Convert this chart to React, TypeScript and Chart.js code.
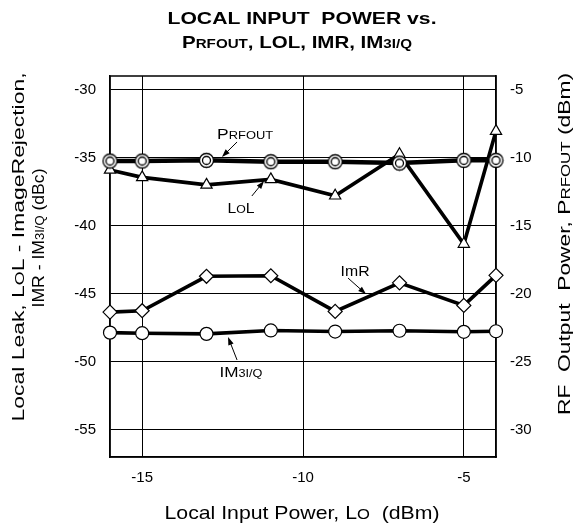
import React, { useEffect, useRef } from 'react';
import { Chart, registerables } from 'chart.js';

Chart.register(...registerables);

const FONT = '"Liberation Sans", Arial, Helvetica, sans-serif';

// Local input power (dBm)
const inputPower = [-16, -15, -13, -11, -9, -7, -5, -4];
// RF output power PRFOUT (dBm, right axis)
const prfout = [-10.25, -10.25, -10.2, -10.3, -10.3, -10.4, -10.2, -10.2];
// Local leak LOL (dBc, left axis)
const lol = [-35.9, -36.45, -37.0, -36.6, -37.8, -34.75, -41.35, -33.05];
// Image rejection IMR (dBc, left axis)
const imr = [-46.35, -46.25, -43.72, -43.68, -46.3, -44.2, -45.86, -43.65];
// IM3 I/Q (dBc, left axis)
const im3 = [-47.86, -47.9, -47.95, -47.7, -47.78, -47.72, -47.8, -47.76];

const xTicks = [-15, -10, -5];
const leftTicks = [-55, -50, -45, -40, -35, -30];
const rightTicks = [-30, -25, -20, -15, -10, -5];

type Seg = [string, number];

// annotation labels: text segments, label anchor (data coords, baseline centre), arrow from -> to (data coords)
const annotations: { segs: Seg[]; at: [number, number]; width: number; from: [number, number]; to: [number, number] }[] = [
  { segs: [['P', 1], ['RFOUT', 0.74]], at: [-11.8, -33.63], width: 56, from: [-12.05, -33.85], to: [-12.52, -34.95] },
  { segs: [['L', 1], ['O', 0.78], ['L', 1]], at: [-11.93, -39.05], width: 27, from: [-11.59, -37.82], to: [-11.21, -36.72] },
  { segs: [['ImR', 1]], at: [-8.38, -43.73], width: 29, from: [-8.6, -43.85], to: [-8.04, -45.03] },
  { segs: [['IM', 1], ['3I/Q', 0.74]], at: [-11.93, -51.14], width: 43, from: [-12.05, -49.87], to: [-12.33, -48.18] },
];

function drawRich(
  ctx: CanvasRenderingContext2D,
  segs: Seg[],
  x: number,
  y: number,
  size: number,
  bold: boolean,
  width?: number,
  rot = 0
) {
  ctx.save();
  ctx.translate(x, y);
  if (rot) ctx.rotate(rot);
  const fontFor = (k: number) => `${bold ? 'bold ' : ''}${size * k}px ${FONT}`;
  const ws = segs.map(([t, k]) => {
    ctx.font = fontFor(k);
    return ctx.measureText(t).width;
  });
  const total = ws.reduce((a, b) => a + b, 0);
  const sx = width ? width / total : 1;
  ctx.scale(sx, 1);
  let px = -total / 2;
  ctx.fillStyle = '#000';
  ctx.textBaseline = 'alphabetic';
  ctx.textAlign = 'left';
  segs.forEach(([t, k], i) => {
    ctx.font = fontFor(k);
    ctx.fillText(t, px, 0);
    px += ws[i];
  });
  ctx.restore();
}

function drawArrow(ctx: CanvasRenderingContext2D, x1: number, y1: number, x2: number, y2: number) {
  const ang = Math.atan2(y2 - y1, x2 - x1);
  const len = 8;
  const half = 2.8;
  ctx.save();
  ctx.strokeStyle = '#000';
  ctx.fillStyle = '#000';
  ctx.lineWidth = 1;
  ctx.beginPath();
  ctx.moveTo(x1, y1);
  ctx.lineTo(x2 - Math.cos(ang) * len * 0.8, y2 - Math.sin(ang) * len * 0.8);
  ctx.stroke();
  ctx.beginPath();
  ctx.moveTo(x2, y2);
  ctx.lineTo(x2 - Math.cos(ang) * len - Math.sin(ang) * half, y2 - Math.sin(ang) * len + Math.cos(ang) * half);
  ctx.lineTo(x2 - Math.cos(ang) * len + Math.sin(ang) * half, y2 - Math.sin(ang) * len - Math.cos(ang) * half);
  ctx.closePath();
  ctx.fill();
  ctx.restore();
}

function makeDoubleCircle(): HTMLCanvasElement {
  const c = document.createElement('canvas');
  c.width = 17;
  c.height = 17;
  const g = c.getContext('2d')!;
  g.fillStyle = '#fff';
  g.strokeStyle = '#000';
  g.lineWidth = 1.3;
  g.beginPath();
  g.arc(8.5, 8.5, 7, 0, Math.PI * 2);
  g.fill();
  g.stroke();
  g.beginPath();
  g.arc(8.5, 8.5, 4, 0, Math.PI * 2);
  g.stroke();
  return c;
}

const framePlugin = {
  id: 'frame',
  beforeDatasetsDraw(chart: any) {
    const ctx: CanvasRenderingContext2D = chart.ctx;
    const { left, right, top, bottom } = chart.chartArea;
    ctx.save();
    ctx.strokeStyle = '#000';
    ctx.lineWidth = 1.5;
    ctx.strokeRect(left, top, right - left, bottom - top);
    ctx.restore();
  },
};

const decorPlugin = {
  id: 'decor',
  afterDraw(chart: any) {
    const ctx: CanvasRenderingContext2D = chart.ctx;
    const xs = chart.scales.x;
    const ys = chart.scales.y;

    // title
    drawRich(ctx, [['LOCAL INPUT  POWER vs.', 1]], 302, 24, 16.5, true, 269);
    drawRich(
      ctx,
      [['P', 1], ['RFOUT', 0.74], [', LOL, IMR, IM', 1], ['3I/Q', 0.74]],
      297,
      48,
      16.5,
      true,
      230
    );

    // x axis title
    drawRich(ctx, [['Local Input Power, L', 1], ['O', 0.78], ['  (dBm)', 1]], 302, 519, 18.5, false, 275);

    // left axis title (two lines)
    drawRich(
      ctx,
      [['Local Leak, L', 1], ['O', 0.78], ['L - ImageRejection,', 1]],
      24,
      247,
      17,
      false,
      349,
      -Math.PI / 2
    );
    drawRich(
      ctx,
      [['IMR - IM', 1], ['3I/Q', 0.74], [' (dBc)', 1]],
      44,
      238,
      17,
      false,
      139,
      -Math.PI / 2
    );

    // right axis title
    drawRich(
      ctx,
      [['RF  Output  Power, P', 1], ['RFOUT', 0.74], [' (dBm)', 1]],
      570,
      244,
      17,
      false,
      342,
      -Math.PI / 2
    );

    // annotations
    annotations.forEach((a) => {
      drawRich(ctx, a.segs, xs.getPixelForValue(a.at[0]), ys.getPixelForValue(a.at[1]), 14, false, a.width);
      drawArrow(
        ctx,
        xs.getPixelForValue(a.from[0]),
        ys.getPixelForValue(a.from[1]),
        xs.getPixelForValue(a.to[0]),
        ys.getPixelForValue(a.to[1])
      );
    });
  },
};

export default function App() {
  const ref = useRef<HTMLCanvasElement | null>(null);

  useEffect(() => {
    if (!ref.current) return;
    const pts = (arr: number[]) => inputPower.map((x, i) => ({ x, y: arr[i] }));
    const doubleCircle = makeDoubleCircle();
    const common = {
      borderColor: '#000',
      backgroundColor: '#000',
      pointBackgroundColor: '#fff',
      pointBorderColor: '#000',
      pointBorderWidth: 1.2,
      pointRadius: 6.5,
      borderWidth: 3.6,
      tension: 0,
      clip: false,
    };
    const chart = new Chart(ref.current, {
      type: 'line',
      data: {
        datasets: [
          { ...common, label: 'PRFOUT', data: pts(prfout), yAxisID: 'y2', pointStyle: doubleCircle as any, borderWidth: 4.5 },
          { ...common, label: 'LOL', data: pts(lol), yAxisID: 'y', pointStyle: 'triangle' },
          { ...common, label: 'IMR', data: pts(imr), yAxisID: 'y', pointStyle: 'rectRot', pointRadius: 7 },
          { ...common, label: 'IM3I/Q', data: pts(im3), yAxisID: 'y', pointStyle: 'circle' },
        ],
      },
      options: {
        animation: false,
        responsive: false,
        layout: { padding: { top: 76, left: 0, right: 0, bottom: 0 } },
        plugins: { legend: { display: false }, title: { display: false }, tooltip: { enabled: false } },
        scales: {
          x: {
            type: 'linear',
            position: 'bottom',
            min: -16,
            max: -4,
            afterBuildTicks: (s: any) => {
              s.ticks = xTicks.map((v) => ({ value: v }));
            },
            afterFit: (s: any) => {
              s.height = 74;
            },
            ticks: { color: '#000', font: { family: FONT, size: 15 }, padding: 12, maxRotation: 0 },
            grid: { color: '#000', lineWidth: 1, drawTicks: false },
            border: { display: true, color: '#000', width: 1.5 },
          },
          y: {
            type: 'linear',
            position: 'left',
            min: -57,
            max: -29,
            afterBuildTicks: (s: any) => {
              s.ticks = leftTicks.map((v) => ({ value: v }));
            },
            afterFit: (s: any) => {
              s.width = 110;
            },
            ticks: { color: '#000', font: { family: FONT, size: 15 }, padding: 14 },
            grid: { color: '#000', lineWidth: 1, drawTicks: false },
            border: { display: true, color: '#000', width: 1.5 },
          },
          y2: {
            type: 'linear',
            position: 'right',
            min: -32,
            max: -4,
            afterBuildTicks: (s: any) => {
              s.ticks = rightTicks.map((v) => ({ value: v }));
            },
            afterFit: (s: any) => {
              s.width = 80;
            },
            ticks: { color: '#000', font: { family: FONT, size: 15 }, padding: 14 },
            grid: { display: false, drawTicks: false },
            border: { display: true, color: '#000', width: 1.5 },
          },
        },
      },
      plugins: [framePlugin, decorPlugin],
    } as any);
    return () => chart.destroy();
  }, []);

  return (
    <div style={{ position: 'absolute', left: 0, top: 0, width: 576, height: 531, background: '#fff' }}>
      <canvas ref={ref} width={576} height={531} style={{ display: 'block' }} />
    </div>
  );
}
